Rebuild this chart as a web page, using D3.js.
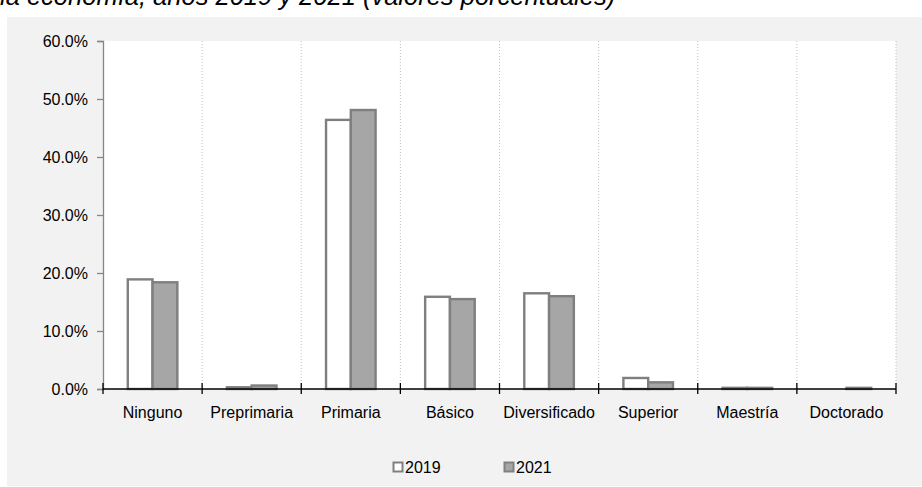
<!DOCTYPE html>
<html>
<head>
<meta charset="utf-8">
<script src="https://cdn.jsdelivr.net/npm/d3@7"></script>
<style>
  html, body { margin: 0; padding: 0; background: #ffffff; }
  svg { display: block; }
  text { font-family: "Liberation Sans", Arial, sans-serif; fill: #000; }
</style>
</head>
<body>
<svg id="chart" width="922" height="487"></svg>
<script>
// Educational level of the employed population, 2019 vs 2021 (percent)
const categories = ["Ninguno", "Preprimaria", "Primaria", "Básico", "Diversificado", "Superior", "Maestría", "Doctorado"];
const seriesNames = ["2019", "2021"];
const values2019 = [18.9, 0.3, 46.4, 15.9, 16.5, 1.9, 0.2, 0.0];
const values2021 = [18.4, 0.6, 48.1, 15.5, 16.0, 1.15, 0.2, 0.2];
const yTicks = [0, 10, 20, 30, 40, 50, 60];
const titleText = "la economía, años 2019 y 2021 (valores porcentuales)";

const svg = d3.select("#chart");
const W = 922, H = 487;

const plot = { left: 103, right: 896, top: 41, bottom: 389 };

// panel background
svg.append("rect")
  .attr("x", 7).attr("y", 17)
  .attr("width", W - 7).attr("height", 486 - 17)
  .attr("fill", "#f2f2f2");

// title line (continuation of a heading above)
svg.append("text")
  .attr("x", 0).attr("y", 5)
  .attr("font-size", 25.5)
  .attr("font-style", "italic")
  .text(titleText);

// plot area
svg.append("rect")
  .attr("x", plot.left).attr("y", plot.top)
  .attr("width", plot.right - plot.left).attr("height", plot.bottom - plot.top)
  .attr("fill", "#ffffff");

const x = d3.scaleBand().domain(categories).range([plot.left, plot.right]).padding(0);
const xs = d3.scaleBand().domain(seriesNames)
  .range([x.bandwidth() * 0.25, x.bandwidth() * 0.75]).padding(0);
const y = d3.scaleLinear().domain([0, 60]).range([plot.bottom, plot.top]);

// dotted vertical separators between categories
const bounds = categories.map(c => x(c) + x.bandwidth());
svg.append("g").selectAll("line")
  .data(bounds)
  .join("line")
  .attr("x1", d => d).attr("x2", d => d)
  .attr("y1", plot.top).attr("y2", plot.bottom)
  .attr("stroke", "#bfbfbf")
  .attr("stroke-width", 1)
  .attr("stroke-dasharray", "1,2");

// bars
const rows = categories.map((c, i) => ({ cat: c, vals: [
  { s: "2019", v: values2019[i] },
  { s: "2021", v: values2021[i] }
]}));
const fills = { "2019": "#ffffff", "2021": "#a6a6a6" };

const groups = svg.append("g").selectAll("g")
  .data(rows)
  .join("g")
  .attr("transform", d => `translate(${x(d.cat)},0)`);

groups.selectAll("rect")
  .data(d => d.vals.filter(e => e.v > 0))
  .join("rect")
  .attr("x", d => xs(d.s))
  .attr("width", xs.bandwidth())
  .attr("y", d => y(d.v))
  .attr("height", d => y(0) - y(d.v))
  .attr("fill", d => fills[d.s])
  .attr("stroke", "#7f7f7f")
  .attr("stroke-width", 2.4);

// y axis
const yAxis = svg.append("g")
  .attr("transform", `translate(${plot.left},0)`)
  .call(d3.axisLeft(y).tickValues(yTicks).tickSize(6).tickPadding(9)
    .tickFormat(d => d.toFixed(1) + "%"));
yAxis.select(".domain").attr("stroke", "#868686").attr("stroke-width", 1.3);
yAxis.selectAll(".tick line").attr("stroke", "#868686").attr("stroke-width", 1.3);
yAxis.selectAll("text").attr("font-size", 16).attr("font-family", "Liberation Sans, Arial, sans-serif");

// x axis with ticks at category boundaries crossing the line
const xAxisG = svg.append("g");
xAxisG.append("line")
  .attr("x1", plot.left).attr("x2", plot.right)
  .attr("y1", plot.bottom).attr("y2", plot.bottom)
  .attr("stroke", "#000").attr("stroke-width", 1.5);
xAxisG.selectAll("line.tk")
  .data([plot.left].concat(bounds))
  .join("line")
  .attr("class", "tk")
  .attr("x1", d => d).attr("x2", d => d)
  .attr("y1", plot.bottom - 6).attr("y2", plot.bottom + 5)
  .attr("stroke", "#000").attr("stroke-width", 1.3);
xAxisG.selectAll("text")
  .data(categories)
  .join("text")
  .attr("x", d => x(d) + x.bandwidth() / 2)
  .attr("y", 418)
  .attr("text-anchor", "middle")
  .attr("font-size", 16)
  .text(d => d);

// legend
const legendX = [393, 504];
const legend = svg.append("g").selectAll("g")
  .data(seriesNames)
  .join("g")
  .attr("transform", (d, i) => `translate(${legendX[i]},462)`);
legend.append("rect")
  .attr("x", 0.5).attr("y", 0.5)
  .attr("width", 9).attr("height", 9)
  .attr("fill", d => fills[d])
  .attr("stroke", "#808080")
  .attr("stroke-width", 2);
legend.append("text")
  .attr("x", 12).attr("y", 11)
  .attr("font-size", 16)
  .text(d => d);
</script>
</body>
</html>
